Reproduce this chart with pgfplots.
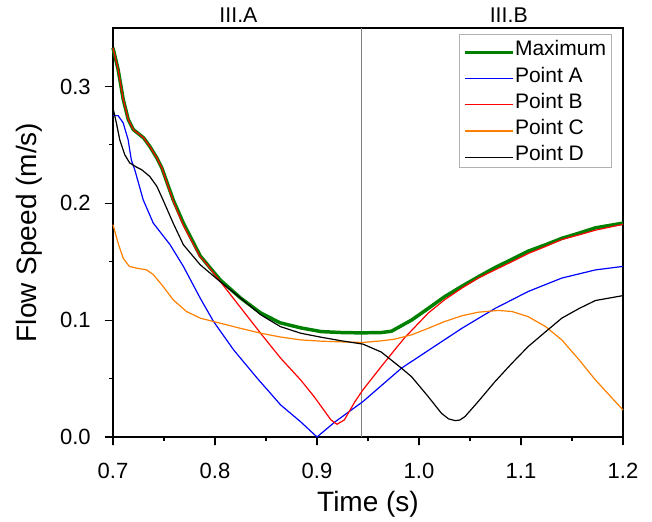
\documentclass[border=0pt]{standalone}
\usepackage{fontspec}
\setmainfont{Liberation Sans}
\usepackage{pgfplots}
\pgfplotsset{compat=1.18}
\begin{document}
\begin{tikzpicture}
\begin{axis}[
  scale only axis, width=382.5pt, height=306.75pt,
  xmin=0.7, xmax=1.2, ymin=0, ymax=0.35,
  xtick={0.7,0.8,0.9,1.0,1.1,1.2},
  ytick={0,0.1,0.2,0.3},
  minor x tick num=1, minor y tick num=1,
  tick align=outside, xtick pos=bottom, ytick pos=left,
  major tick length=6pt, minor tick length=3pt,
  tick style={black, line width=0.9pt},
  axis line style={black, line width=1.1pt},
  /pgf/number format/fixed, /pgf/number format/fixed zerofill, /pgf/number format/precision=1, /pgf/number format/assume math mode=true,
  ticklabel style={font=\fontsize{16.5}{18}\selectfont},
  xticklabel style={anchor=base, yshift=-24.75pt},
  yticklabel style={anchor=east, inner sep=0pt, xshift=-10.5pt},
  every axis x label/.style={at={(axis description cs:0.5,0)}, anchor=base, yshift=-55.5pt, font=\fontsize{21}{24}\selectfont},
  every axis y label/.style={at={([xshift=-57.5pt]axis description cs:0,0.5)}, rotate=90, anchor=base, font=\fontsize{21}{24}\selectfont},
  xlabel={Time (s)}, ylabel={Flow Speed (m/s)},
  legend style={at={(axis description cs:0.9725,0.98)}, anchor=north east, draw=none, fill=none,
    font=\fontsize{15.75}{19}\selectfont, row sep=0pt, inner sep=2pt,
    nodes={inner sep=0pt, text height=12.6pt, text depth=7.1pt}},
  legend cell align=left,
  legend image code/.code={\draw[#1, line width=\pgfkeysvalueof{/pgfplots/mylw}] (0pt,0pt) -- (36pt,0pt);},
  /pgfplots/mylw/.initial=0.9pt,
  clip=false,
]
% axis frame and tick marks
\addplot[color=black, line width=1.1pt, forget plot] coordinates {(0.7,0.35) (0.7,0) (1.2,0) (1.2,0.35) (0.7,0.35) (0.7,0)};
\addplot[color=black, line width=0.9pt, forget plot] coordinates {
(0.7,0) (0.7,-0.00685) (0.7,0) (0.75,0) (0.75,-0.00342) (0.75,0) (0.8,0) (0.8,-0.00685) (0.8,0) (0.85,0) (0.85,-0.00342) (0.85,0)
(0.9,0) (0.9,-0.00685) (0.9,0) (0.95,0) (0.95,-0.00342) (0.95,0) (1.0,0) (1.0,-0.00685) (1.0,0) (1.05,0) (1.05,-0.00342) (1.05,0)
(1.1,0) (1.1,-0.00685) (1.1,0) (1.15,0) (1.15,-0.00342) (1.15,0) (1.2,0) (1.2,-0.00685)};
\addplot[color=black, line width=0.9pt, forget plot] coordinates {
(0.7,0) (0.69216,0) (0.7,0) (0.7,0.05) (0.69608,0.05) (0.7,0.05) (0.7,0.1) (0.69216,0.1) (0.7,0.1) (0.7,0.15) (0.69608,0.15) (0.7,0.15)
(0.7,0.2) (0.69216,0.2) (0.7,0.2) (0.7,0.25) (0.69608,0.25) (0.7,0.25) (0.7,0.3) (0.69216,0.3)};
% legend frame
\addplot[color=black!30, line width=0.6pt, forget plot] coordinates {(1.0396,0.3445) (1.0396,0.2305) (1.1889,0.2305) (1.1889,0.3445) (1.0396,0.3445) (1.0396,0.2305)};
% section divider
\addplot[color=gray, line width=0.6pt, forget plot] coordinates {(0.944,0) (0.944,0.35)};
\addplot[color=green!50!black, line width=2.6pt, /pgfplots/mylw=2.6pt] coordinates {
(0.700,0.333) (0.705,0.3145) (0.710,0.289) (0.715,0.2716) (0.720,0.263) (0.730,0.256) (0.736,0.2488) (0.743,0.2388) (0.748,0.230) (0.759,0.203) (0.769,0.183) (0.7855,0.155) (0.805,0.1345) (0.825,0.119) (0.845,0.106) (0.864,0.0977) (0.884,0.0934) (0.904,0.0902) (0.924,0.0894) (0.943,0.0891) (0.963,0.0894) (0.973,0.0905) (0.9926,0.100) (1.009,0.110) (1.025,0.120) (1.042,0.129) (1.058,0.137) (1.0745,0.145) (1.091,0.152) (1.107,0.159) (1.124,0.1645) (1.140,0.170) (1.157,0.1745) (1.173,0.179) (1.200,0.183)};
\addlegendentry{Maximum}
\addplot[color=blue, line width=0.9pt] coordinates {
(0.700,0.275) (0.705,0.275) (0.710,0.2688) (0.7148,0.2545) (0.718,0.237) (0.7213,0.2288) (0.7296,0.203) (0.7395,0.183) (0.756,0.1645) (0.769,0.146) (0.7855,0.1188) (0.7986,0.0988) (0.8183,0.0745) (0.8414,0.0503) (0.8644,0.0274) (0.884,0.013) (0.900,0.000) (0.917,0.0125) (0.945,0.0303) (0.9828,0.0589) (1.009,0.074) (1.042,0.093) (1.0745,0.110) (1.107,0.1245) (1.140,0.136) (1.173,0.143) (1.200,0.146)};
\addlegendentry{Point A}
\addplot[color=red, line width=0.9pt] coordinates {
(0.700,0.333) (0.705,0.3145) (0.710,0.289) (0.715,0.2716) (0.720,0.263) (0.730,0.256) (0.736,0.2488) (0.743,0.2388) (0.748,0.230) (0.759,0.202) (0.769,0.181) (0.7855,0.154) (0.790,0.150) (0.8447,0.0888) (0.8644,0.0674) (0.884,0.0488) (0.8972,0.0345) (0.9137,0.0146) (0.9196,0.0109) (0.9268,0.0146) (0.937,0.030) (0.945,0.0403) (0.963,0.0603) (0.9761,0.0745) (0.986,0.085) (1.009,0.106) (1.025,0.1174) (1.042,0.1274) (1.058,0.136) (1.0745,0.143) (1.091,0.150) (1.107,0.157) (1.124,0.163) (1.140,0.169) (1.157,0.173) (1.173,0.177) (1.200,0.182)};
\addlegendentry{Point B}
\addplot[color=orange, line width=0.9pt] coordinates {
(0.700,0.1817) (0.705,0.166) (0.710,0.153) (0.716,0.146) (0.723,0.1445) (0.733,0.143) (0.7395,0.139) (0.749,0.129) (0.759,0.1174) (0.772,0.1074) (0.7855,0.1017) (0.805,0.0974) (0.825,0.093) (0.845,0.0888) (0.864,0.0856) (0.884,0.0831) (0.904,0.082) (0.924,0.0814) (0.945,0.0809) (0.963,0.0823) (0.976,0.0837) (0.9926,0.0874) (1.009,0.093) (1.025,0.0988) (1.042,0.1037) (1.058,0.1068) (1.078,0.1083) (1.091,0.1074) (1.107,0.103) (1.124,0.0945) (1.140,0.0831) (1.157,0.066) (1.173,0.0488) (1.200,0.0231)};
\addlegendentry{Point C}
\addplot[color=black, line width=0.9pt] coordinates {
(0.700,0.2816) (0.7033,0.2688) (0.7066,0.2545) (0.7115,0.2416) (0.7164,0.2345) (0.723,0.231) (0.728,0.2288) (0.736,0.223) (0.743,0.2145) (0.749,0.203) (0.759,0.183) (0.769,0.1645) (0.7855,0.1474) (0.805,0.133) (0.825,0.119) (0.845,0.1045) (0.864,0.0945) (0.884,0.0888) (0.904,0.0854) (0.924,0.0823) (0.945,0.0795) (0.963,0.0727) (0.9828,0.0589) (0.9926,0.0517) (1.009,0.0346) (1.022,0.0203) (1.029,0.0155) (1.0355,0.014) (1.040,0.0145) (1.045,0.0174) (1.058,0.0303) (1.0745,0.0474) (1.091,0.063) (1.107,0.0774) (1.124,0.090) (1.140,0.1017) (1.157,0.110) (1.173,0.1168) (1.200,0.121)};
\addlegendentry{Point D}
\node[font=\fontsize{16}{18}\selectfont, anchor=center] at ([yshift=9.4pt]axis cs:0.823,0.35) {III.A};
\node[font=\fontsize{16}{18}\selectfont, anchor=center] at ([yshift=9.4pt]axis cs:1.088,0.35) {III.B};
\end{axis}
\path ([shift={(-84.75pt,-60.75pt)}]current axis.south west) rectangle ([shift={(21.75pt,21pt)}]current axis.north east);
\end{tikzpicture}
\end{document}
